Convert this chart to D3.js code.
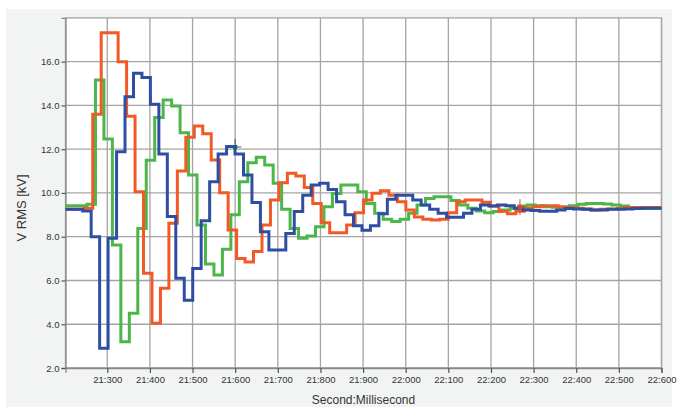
<!DOCTYPE html>
<html>
<head>
<meta charset="utf-8">
<script src="https://cdn.jsdelivr.net/npm/d3@7"></script>
<style>
  html, body { margin: 0; padding: 0; background: #ffffff; }
  svg { display: block; }
  text { font-family: "Liberation Sans", Arial, sans-serif; fill: #333333; }
</style>
</head>
<body>
<svg id="chart" width="678" height="410"></svg>
<script>
// Axis tick labels (second:millisecond) and V RMS ticks
const xTickLabels = ["21:300", "21:400", "21:500", "21:600", "21:700", "21:800", "21:900",
                     "22:000", "22:100", "22:200", "22:300", "22:400", "22:500", "22:600"];
const yTickLabels = ["2.0", "4.0", "6.0", "8.0", "10.0", "12.0", "14.0", "16.0"];

// Time window shown, in ms (second*1000 + millisecond)
const timeDomain = [21202, 22600];
const voltDomain = [2, 18];

// One RMS value per cycle
const cycleMs = 19.85;

// Start time of the first value of each phase
const blueStart = 21182.8;
const orangeStart = 21186.5;
const greenStart = 21192.9;

const blueValues = [
  9.25, 9.25, 9.25, 9.18,
  8.0, 2.9, 7.93, 11.88, 14.4, 15.47, 15.28, 14.05, 11.78, 8.92,
  6.1, 5.1, 6.55, 8.73, 10.51, 11.78, 12.12, 11.78, 10.82, 9.56,
  8.23, 7.39, 7.39, 8.15, 9.15, 9.9, 10.36, 10.44, 10.16, 9.6,
  9.0, 8.5, 8.3, 8.5, 9.05, 9.71, 9.9, 9.9, 9.68, 9.45,
  9.25, 9.07, 8.89, 8.89, 9.07, 9.25, 9.45, 9.4, 9.45, 9.42,
  9.3, 9.22, 9.2, 9.16, 9.16, 9.22, 9.29, 9.27, 9.25, 9.22,
  9.22, 9.25, 9.25, 9.27, 9.29, 9.3, 9.3, 9.3
];

const orangeValues = [
  9.25, 9.25, 9.25, 9.3,
  13.6, 17.32, 17.32, 16.0, 13.5, 10.06, 6.33, 4.05, 5.64, 8.61,
  11.0, 12.54, 13.06, 12.7, 11.51, 10.01, 8.31, 7.01, 6.85, 7.32,
  8.54, 9.68, 10.47, 10.9, 10.78, 10.25, 9.52, 8.64, 8.18, 8.18,
  8.54, 9.1, 9.68, 9.99, 10.1, 9.9, 9.6, 9.22, 8.9, 8.8,
  8.76, 8.8, 9.1, 9.6, 9.68, 9.68, 9.57, 9.4, 9.16, 9.05,
  9.16, 9.3, 9.37, 9.42, 9.42, 9.37, 9.33, 9.3, 9.27, 9.22,
  9.25, 9.27, 9.3, 9.33, 9.33, 9.33, 9.33, 9.33
];

const greenValues = [
  9.42, 9.42, 9.42, 9.48,
  15.16, 12.47, 7.62, 3.2, 4.5, 8.38, 11.5, 13.45, 14.25, 13.97,
  12.75, 10.82, 8.54, 6.75, 6.25, 7.43, 9.0, 10.51, 11.38, 11.63,
  11.28, 10.44, 9.25, 8.38, 7.93, 8.03, 8.46, 9.37, 9.98, 10.36,
  10.36, 10.06, 9.52, 9.07, 8.8, 8.69, 8.8, 9.07, 9.45, 9.75,
  9.83, 9.83, 9.65, 9.45, 9.3, 9.17, 9.1, 9.15, 9.22, 9.3,
  9.4, 9.45, 9.42, 9.37, 9.35, 9.33, 9.42, 9.48, 9.52, 9.52,
  9.5, 9.45, 9.4, 9.33, 9.3, 9.3, 9.3, 9.3
];

// Cursor markers placed on the traces
const cursorTimes = [21600, 22268];
const cursorValues = [12.1, 9.35];
const cursorColors = ["#1f5f66", "#e0402a"];

const seriesList = [
  { name: "green", start: greenStart, values: greenValues, color: "#4cb748" },
  { name: "orange", start: orangeStart, values: orangeValues, color: "#f15a24" },
  { name: "blue", start: blueStart, values: blueValues, color: "#2d4ea2" }
];

const parseTick = s => { const [sec, ms] = s.split(":"); return (+sec) * 1000 + (+ms); };

const svg = d3.select("#chart");
const plot = { left: 65.5, right: 661.5, top: 17.9, bottom: 368 };

// Panel background
svg.append("rect")
  .attr("x", 6).attr("y", 9).attr("width", 666).attr("height", 398)
  .attr("fill", "#f2f3f3");

svg.append("rect")
  .attr("x", plot.left).attr("y", plot.top)
  .attr("width", plot.right - plot.left).attr("height", plot.bottom - plot.top)
  .attr("fill", "#ffffff");

const x = d3.scaleLinear().domain(timeDomain).range([plot.left, plot.right]);
const y = d3.scaleLinear().domain(voltDomain).range([plot.bottom, plot.top]);

const xTicks = xTickLabels.map(parseTick);
const yTicks = yTickLabels.map(Number);

// Grid
const grid = svg.append("g").attr("stroke", "#a4a4a4").attr("stroke-width", 1.3);
xTicks.forEach(t => grid.append("line")
  .attr("x1", x(t)).attr("x2", x(t)).attr("y1", plot.top).attr("y2", plot.bottom));
yTicks.forEach(v => grid.append("line")
  .attr("x1", plot.left).attr("x2", plot.right).attr("y1", y(v)).attr("y2", y(v)));

// Plot frame
svg.append("rect")
  .attr("x", plot.left).attr("y", plot.top)
  .attr("width", plot.right - plot.left).attr("height", plot.bottom - plot.top)
  .attr("fill", "none").attr("stroke", "#a4a4a4").attr("stroke-width", 1.3);

// Axes
const xAxis = d3.axisBottom(x).tickValues(xTicks)
  .tickFormat((d, i) => xTickLabels[i]).tickSize(5).tickPadding(3);
const yAxis = d3.axisLeft(y).tickValues(yTicks)
  .tickFormat((d, i) => yTickLabels[i]).tickSize(4).tickPadding(2);

const gx = svg.append("g").attr("transform", `translate(0,${plot.bottom})`).call(xAxis);
const gy = svg.append("g").attr("transform", `translate(${plot.left},0)`).call(yAxis);
[gx, gy].forEach(g => {
  g.select(".domain").attr("stroke", "#8a8a8a").attr("stroke-width", 1.3);
  g.selectAll(".tick line").attr("stroke", "#555555").attr("stroke-width", 1.2);
  g.selectAll(".tick text").attr("font-size", 9.5)
    .attr("font-family", "'Liberation Sans', Arial, sans-serif").attr("fill", "#333333");
});

// Axis titles
svg.append("text")
  .attr("x", (plot.left + plot.right) / 2).attr("y", 404)
  .attr("text-anchor", "middle").attr("font-size", 12)
  .text("Second:Millisecond");

svg.append("text")
  .attr("transform", `translate(26,${(plot.top + plot.bottom) / 2 + 15}) rotate(-90)`)
  .attr("text-anchor", "middle").attr("font-size", 13)
  .text("V RMS [kV]");

// Traces
svg.append("clipPath").attr("id", "plot-clip")
  .append("rect")
  .attr("x", plot.left).attr("y", plot.top)
  .attr("width", plot.right - plot.left).attr("height", plot.bottom - plot.top);

const line = d3.line()
  .x(d => x(d.t)).y(d => y(d.v))
  .curve(d3.curveStepAfter);

const traces = svg.append("g").attr("clip-path", "url(#plot-clip)");
seriesList.forEach(s => {
  const pts = s.values.map((v, i) => ({ t: s.start + i * cycleMs, v }));
  pts.push({ t: s.start + s.values.length * cycleMs, v: s.values[s.values.length - 1] });
  traces.append("path")
    .datum(pts)
    .attr("fill", "none")
    .attr("stroke", s.color)
    .attr("stroke-width", 3)
    .attr("stroke-linejoin", "miter")
    .attr("stroke-linecap", "square")
    .attr("d", line);
});

// Cursor markers
cursorTimes.forEach((t, i) => {
  const cx = x(t), cy = y(cursorValues[i]);
  const g = svg.append("g").attr("stroke", cursorColors[i]).attr("stroke-width", 1);
  g.append("line").attr("x1", cx).attr("x2", cx).attr("y1", cy - 8).attr("y2", cy + (i ? 8 : 0));
  g.append("line").attr("x1", cx).attr("x2", cx + 6).attr("y1", cy).attr("y2", cy);
  svg.append("rect").attr("x", cx - 2).attr("y", cy - 2).attr("width", 4).attr("height", 4)
    .attr("fill", cursorColors[i]);
});
</script>
</body>
</html>
